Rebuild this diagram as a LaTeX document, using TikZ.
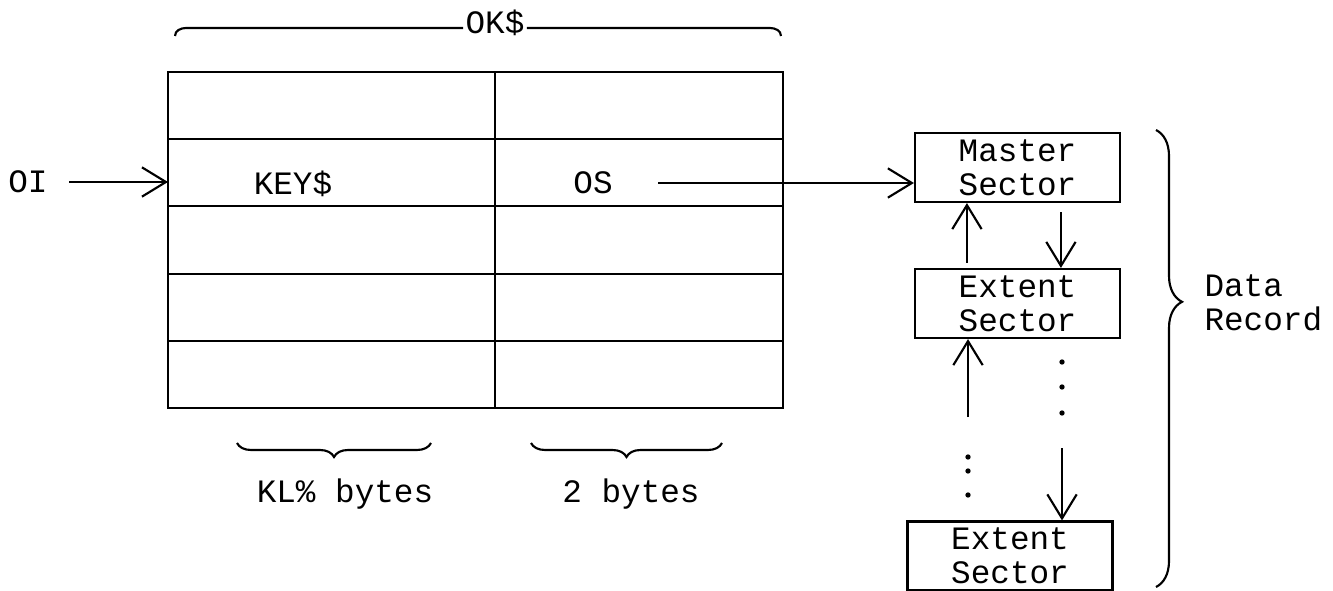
\documentclass[tikz,border=0pt]{standalone}
\usepackage{fontspec}
\setmainfont{Liberation Mono}
\usetikzlibrary{arrows.meta,decorations.pathreplacing,calc}

\tikzset{
  barb/.style={-{Straight Barb[length=18pt,width=22pt]}},
  sector/.style={draw,minimum width=153.75pt,minimum height=51.75pt,inner sep=0pt,align=center},
  curly/.style={decorate,decoration={brace,#1}},
}

\begin{document}
\begin{tikzpicture}[x=0.75pt,y=0.75pt,line width=1.6pt,font=\fontsize{24.5}{25.5}\selectfont]
  \useasboundingbox (0,0) rectangle (1333,-591);
  % table of keys
  \coordinate (tl) at (168,-72);
  \coordinate (br) at (783,-408);
  \draw (tl) rectangle (br);
  \foreach \y in {139,206,274,341}
    \draw (168,-\y) -- (783,-\y);
  \draw (495,-72) -- (495,-408);
  \node (key) at (293,-184) {KEY\$};
  \node (os) at (593,-183) {OS};
  % OK$ over the table
  \node[inner sep=1pt] (okd) at (495,-23) {OK\$};
  \coordinate (okl) at (175,-36);
  \coordinate (okr) at (781,-36);
  \draw (okl) to[out=90,in=180] (186,-28) -- ([yshift=-3.75pt]okd.west);
  \draw ([yshift=-3.75pt]okd.east) -- (770,-28) to[out=0,in=90] (okr);
  % pointer in
  \node (oi) at (28,-182) {OI};
  \draw[barb,shorten <=12pt] (oi) -- (oi -| tl);
  % field widths
  \draw[curly={mirror,amplitude=10.5pt}] (237,-443) -- (431,-443);
  \draw[curly={mirror,amplitude=10.5pt}] (531,-443) -- (722,-443);
  \node (kl) at (345,-494) {KL\% bytes};
  \node (two) at (631,-494) {2 bytes};
  % sectors
  \node[sector] (master) at (1017.5,-167.5) {Master\\Sector};
  \node[sector] (ext1) at (1017.5,-303.5) {Extent\\Sector};
  \node[sector] (ext2) at (1010,-556) {Extent\\Sector};
  \draw[barb,shorten <=30pt] (os) -- (os -| master.west);
  \draw[barb,shorten <=4pt] ($(ext1.north west)+(53,0)$) -- ($(master.south west)+(53,0)$);
  \draw[barb,shorten <=7pt] ($(master.south west)+(147,0)$) -- ($(ext1.north west)+(147,0)$);
  \coordinate (upfoot) at (968,-417);
  \coordinate (downfoot) at (1062,-448);
  \draw[barb] (upfoot) -- (upfoot |- ext1.south);
  \draw[barb] (downfoot) -- (downfoot |- ext2.north);
  \foreach \y in {457,471,495}
    \fill (968,-\y) circle (2pt);
  \foreach \y in {362,387,413}
    \fill (1062,-\y) circle (2pt);
  % the whole record
  \draw[curly={amplitude=19.5pt,aspect=0.376}] (1156,-130) -- (1156,-587);
  \node[anchor=west,align=left] (rec) at (1199,-303) {Data\\Record};
\end{tikzpicture}
\end{document}
